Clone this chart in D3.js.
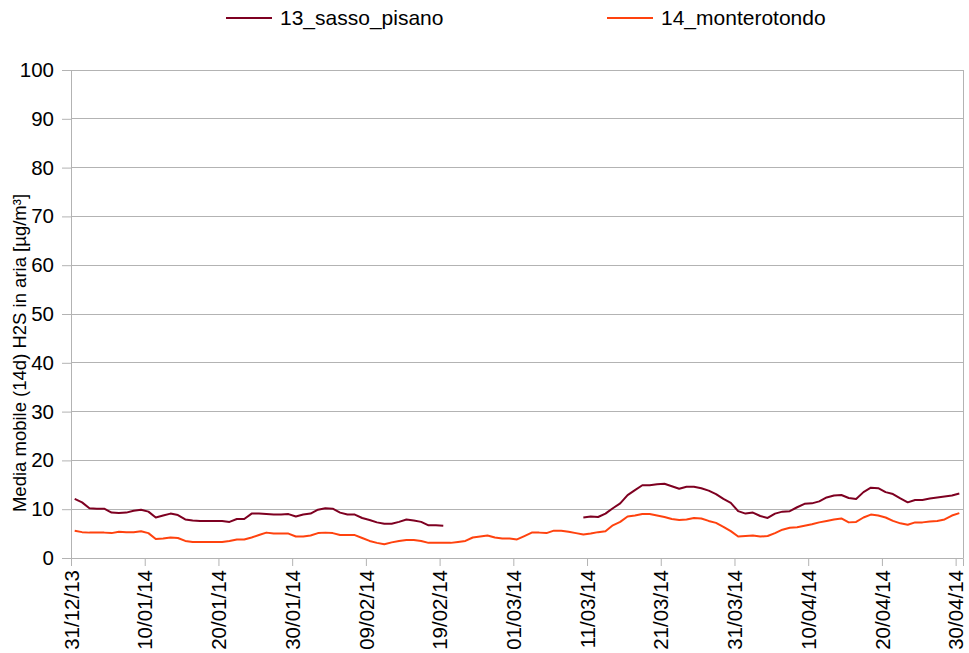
<!DOCTYPE html>
<html><head><meta charset="utf-8">
<script src="https://cdn.jsdelivr.net/npm/d3@7"></script>
<style>body{margin:0;background:#fff}svg{display:block}text{font-family:"Liberation Sans",Arial,sans-serif}</style>
</head><body>
<svg id="c" width="969" height="653"></svg>
<script>
const startDate = "2013-12-31";
const endDate = "2014-05-01";
const seriesNames = ["13_sasso_pisano", "14_monterotondo"];
const seriesColors = ["#7e0021", "#ff420e"];
const yTicks = [0,10,20,30,40,50,60,70,80,90,100];
const yTitle = "Media mobile (14d) H2S in aria [µg/m³]";
// daily values from 31/12/13 (index 0) to 30/04/14 (index 120); null = missing
const sassoPisano = [
12.1,11.4,10.2,10.1,10.1,9.3,9.2,9.3,9.7,9.9,9.5,8.3,8.7,9.1,8.8,7.9,7.7,7.6,7.6,7.6,
7.6,7.4,8.0,8.0,9.1,9.1,9.0,8.9,8.9,9.0,8.5,8.9,9.1,9.9,10.2,10.1,9.3,8.9,8.9,8.2,
7.8,7.3,7.0,7.0,7.4,7.9,7.7,7.4,6.7,6.7,6.6,
null,null,null,null,null,null,null,null,null,null,null,null,null,null,null,null,null,null,
8.3,8.5,8.4,9.1,10.2,11.2,12.9,13.9,14.9,14.9,15.1,
15.2,14.7,14.2,14.6,14.6,14.3,13.8,13.1,12.1,11.3,9.6,9.1,9.3,8.6,8.2,9.1,9.5,9.6,10.4,11.1,
11.2,11.6,12.4,12.8,12.9,12.3,12.1,13.5,14.4,14.3,13.5,13.1,12.2,11.4,11.9,11.9,12.2,12.4,12.6,12.8,
13.2];
const monterotondo = [
5.6,5.3,5.2,5.2,5.2,5.1,5.4,5.3,5.3,5.5,5.1,3.9,4.0,4.2,4.1,3.5,3.3,3.3,3.3,3.3,
3.3,3.5,3.8,3.8,4.2,4.7,5.2,5.0,5.0,5.0,4.4,4.4,4.6,5.1,5.2,5.1,4.7,4.7,4.7,4.1,
3.5,3.1,2.8,3.2,3.5,3.7,3.7,3.5,3.1,3.1,3.1,3.1,3.3,3.5,4.2,4.4,4.6,4.2,4.0,4.0,
3.8,4.5,5.2,5.2,5.1,5.6,5.6,5.4,5.1,4.8,5.0,5.3,5.5,6.7,7.4,8.5,8.7,9.0,9.0,8.7,
8.4,8.0,7.8,7.9,8.2,8.1,7.6,7.2,6.4,5.5,4.4,4.5,4.6,4.4,4.5,5.1,5.8,6.2,6.3,6.6,
6.9,7.3,7.6,7.9,8.1,7.3,7.4,8.3,8.9,8.7,8.3,7.6,7.1,6.8,7.3,7.3,7.5,7.6,7.9,8.7,
9.2];

const svg = d3.select("#c");
const parse = d3.timeParse("%Y-%m-%d");
const t0 = parse(startDate), t1 = parse(endDate);
const x = d3.scaleTime().domain([t0, t1]).range([71, 963]);
const y = d3.scaleLinear().domain([0, 100]).range([558, 70]);
const dateOf = i => d3.timeHour.offset(d3.timeDay.offset(t0, i), 12);

// gridlines
svg.append("g").selectAll("line").data(yTicks).join("line")
  .attr("x1", 71).attr("x2", 963).attr("y1", d => y(d)).attr("y2", d => y(d))
  .attr("stroke", "#b3b3b3").attr("stroke-width", 1).attr("shape-rendering","crispEdges");
// right border
svg.append("line").attr("x1",963).attr("x2",963).attr("y1",y(100)).attr("y2",y(0))
  .attr("stroke","#b3b3b3").attr("shape-rendering","crispEdges");

// y axis
const yAxis = svg.append("g").attr("transform","translate(71,0)")
  .call(d3.axisLeft(y).tickValues(yTicks).tickSize(9).tickPadding(8));
yAxis.select(".domain").attr("stroke","#b3b3b3");
yAxis.selectAll(".tick line").attr("stroke","#b3b3b3");
yAxis.selectAll("text").attr("font-size", 20.5).attr("fill","#000");

// x axis
const xTickDates = d3.timeDay.every(1).range(t0, t1).filter((d,i) => i % 10 === 0);
const xAxis = svg.append("g").attr("transform","translate(0,558)")
  .call(d3.axisBottom(x).tickValues(xTickDates).tickSize(8).tickFormat(d3.timeFormat("%d/%m/%y")));
xAxis.select(".domain").attr("stroke","#b3b3b3");
xAxis.selectAll(".tick line").attr("stroke","#b3b3b3");
xAxis.selectAll("text").attr("font-size", 20.5).attr("fill","#000")
  .attr("transform","rotate(-90)").attr("text-anchor","end")
  .attr("x",-12).attr("y",0).attr("dy","0.35em");

// lines
const line = d3.line().defined(d => d != null).x((d,i) => x(dateOf(i))).y(d => y(d));
[sassoPisano, monterotondo].forEach((s, k) => {
  svg.append("path").attr("d", line(s)).attr("fill","none")
    .attr("stroke", seriesColors[k]).attr("stroke-width", 2).attr("stroke-linejoin","round");
});

// y title
svg.append("text").attr("transform","translate(26,353) rotate(-90)")
  .attr("text-anchor","middle").attr("font-size",18.5).attr("fill","#000").text(yTitle);

// legend
const legX = [226, 607];
seriesNames.forEach((n,k) => {
  svg.append("line").attr("x1",legX[k]).attr("x2",legX[k]+46).attr("y1",18).attr("y2",18)
    .attr("stroke",seriesColors[k]).attr("stroke-width",2);
  svg.append("text").attr("x",legX[k]+54).attr("y",18).attr("dy","0.35em")
    .attr("font-size",21).attr("fill","#000").text(n);
});
</script>
</body></html>
